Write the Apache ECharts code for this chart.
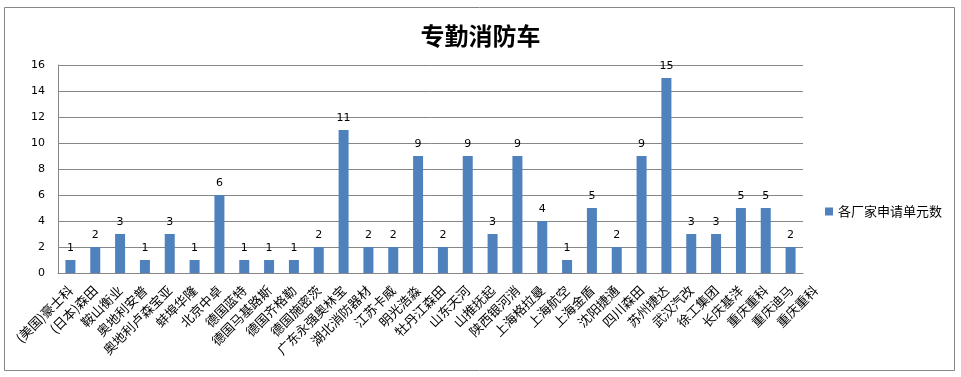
<!DOCTYPE html>
<html><head><meta charset="utf-8">
<script src="https://cdn.jsdelivr.net/npm/echarts@6/dist/echarts.min.js"></script>
<style>html,body{margin:0;padding:0;background:#fff}#c{width:961px;height:377px}</style>
</head><body><div id="c"></div>
<script>
// 30 bars; the reference shows one extra trailing label beyond the axis end
const categories = ['(美国)豪士科','(日本)森田','鞍山衡业','奥地利安普','奥地利卢森宝亚','蚌埠华隆','北京中卓','德国蓝特','德国马基路斯','德国齐格勒','德国施密茨','广东永强奥林宝','湖北消防器材','江苏卡威','明光浩淼','牡丹江森田','山东天河','山推抚起','陕西银河消','上海格拉曼','上海航空','上海金盾','沈阳捷通','四川森田','苏州捷达','武汉汽改','徐工集团','长庆基洋','重庆重科','重庆迪马'];
const extraLabels = ['重庆重科'];
const values = [1,2,3,1,3,1,6,1,1,1,2,11,2,2,9,2,9,3,9,4,1,5,2,9,15,3,3,5,5,2];
const yTicks = [0,2,4,6,8,10,12,14,16];
const seriesName = '各厂家申请单元数';
const titleText = '专勤消防车';

const labelCats = categories.concat(extraLabels);
const W = 961, L = 58, R = 158;
const plotW = W - L - R;
const step = plotW / categories.length;
const R2 = W - L - step * labelCats.length;

const chart = echarts.init(document.getElementById('c'));
chart.setOption({
  animation:false,
  title:{text:titleText,left:'center',top:19,textStyle:{fontFamily:'Noto Sans CJK SC',fontSize:24,fontWeight:'bold',color:'#000'}},
  legend:{data:[seriesName],left:820,top:200,icon:'rect',itemWidth:8,itemHeight:8,itemGap:4,textStyle:{fontFamily:'Noto Sans CJK SC',fontSize:13,color:'#000'}},
  grid:[{left:L,right:R,top:65,bottom:104,containLabel:false},
        {left:L,right:R2,top:65,bottom:104,containLabel:false}],
  xAxis:[{type:'category',data:categories,gridIndex:0,
    axisLine:{lineStyle:{color:'#868686'}},
    axisTick:{show:false},
    axisLabel:{show:false}},
    {type:'category',data:labelCats,gridIndex:1,
    axisLine:{show:false},axisTick:{show:false},splitLine:{show:false},
    axisLabel:{rotate:45,interval:0,fontFamily:'Noto Sans CJK SC',fontSize:13,color:'#000',margin:15}}],
  yAxis:[{type:'value',min:0,max:16,interval:2,gridIndex:0,
    axisLine:{show:true,lineStyle:{color:'#868686'}},
    axisTick:{show:false},
    splitLine:{lineStyle:{color:'#868686'}},
    axisLabel:{fontFamily:'DejaVu Sans',fontSize:11,color:'#000',margin:13,
      formatter:v=>yTicks.includes(v)?String(v):''}},
    {type:'value',min:0,max:16,gridIndex:1,show:false}],
  series:[{name:seriesName,type:'bar',data:values,barWidth:10,xAxisIndex:0,yAxisIndex:0,
    itemStyle:{color:'#4F81BD'},
    label:{show:true,position:'top',fontFamily:'DejaVu Sans',fontSize:11,color:'#000',distance:6}}],
  graphic:[{type:'rect',shape:{x:4.5,y:7.5,width:950,height:363},style:{fill:'none',stroke:'#868686',lineWidth:1}}]
});
</script></body></html>
